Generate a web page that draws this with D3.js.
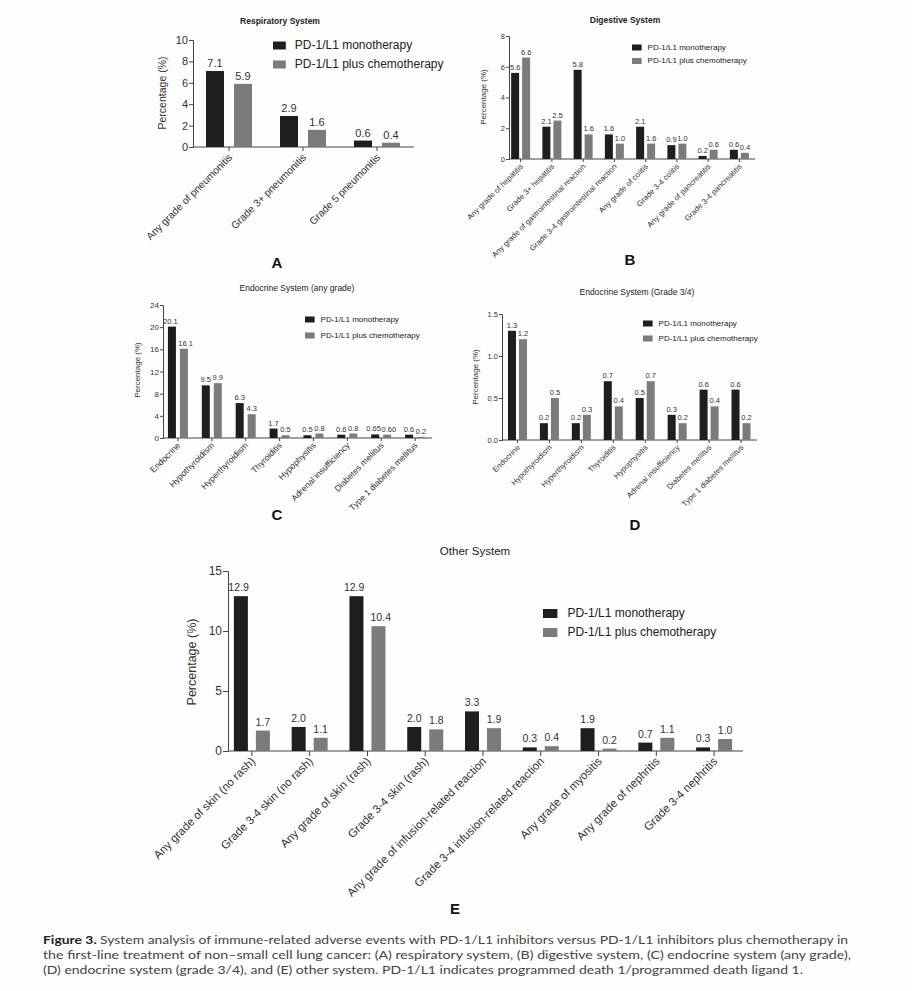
<!DOCTYPE html>
<html>
<head>
<meta charset="utf-8">
<script src="https://cdn.jsdelivr.net/npm/d3@7"></script>
<style>
  body { margin: 0; background: #fff; }
  svg { display: block; font-family: "Liberation Sans", Arial, sans-serif; }
</style>
</head>
<body>
<script>
// --- data ---
const seriesNames = ["PD-1/L1 monotherapy", "PD-1/L1 plus chemotherapy"];

const respCats = ["Any grade of pneumonitis", "Grade 3+ pneumonitis", "Grade 5 pneumonitis"];
const respMono = [7.1, 2.9, 0.6];
const respChemo = [5.9, 1.6, 0.4];
const respTicks = [0, 2, 4, 6, 8, 10];

const digCats = ["Any grade of hepatitis", "Grade 3+ hepatitis", "Any grade of gastrointestinal reaction",
  "Grade 3-4 gastrointestinal reaction", "Any grade of colitis", "Grade 3-4 colitis",
  "Any grade of pancreatitis", "Grade 3-4 pancreatitis"];
const digMono = [5.6, 2.1, 5.8, 1.6, 2.1, 0.9, 0.2, 0.6];
const digChemo = [6.6, 2.5, 1.6, 1.0, 1.0, 1.0, 0.6, 0.4];
const digMonoLabels = ["5.6", "2.1", "5.8", "1.6", "2.1", "0.9", "0.2", "0.6"];
const digChemoLabels = ["6.6", "2.5", "1.6", "1.0", "1.6", "1.0", "0.6", "0.4"];
const digTicks = [0, 2, 4, 6, 8];

const endoCats = ["Endocrine", "Hypothyroidism", "Hyperthyroidism", "Thyroiditis", "Hypophysitis",
  "Adrenal insufficiency", "Diabetes mellitus", "Type 1 diabetes mellitus"];
const endoMono = [20.1, 9.5, 6.3, 1.7, 0.5, 0.6, 0.65, 0.6];
const endoChemo = [16.1, 9.9, 4.3, 0.5, 0.8, 0.8, 0.60, 0.2];
const endoMonoLabels = ["20.1", "9.5", "6.3", "1.7", "0.5", "0.6", "0.65", "0.6"];
const endoChemoLabels = ["16.1", "9.9", "4.3", "0.5", "0.8", "0.8", "0.60", "0.2"];
const endoTicks = [0, 4, 8, 12, 16, 20, 24];

const endo34Mono = [1.3, 0.2, 0.2, 0.7, 0.5, 0.3, 0.6, 0.6];
const endo34Chemo = [1.2, 0.5, 0.3, 0.4, 0.7, 0.2, 0.4, 0.2];
const endo34Ticks = [0, 0.5, 1.0, 1.5];

const otherCats = ["Any grade of skin (no rash)", "Grade 3-4 skin (no rash)", "Any grade of skin (rash)",
  "Grade 3-4 skin (rash)", "Any grade of infusion-related reaction", "Grade 3-4 infusion-related reaction",
  "Any grade of myositis", "Any grade of nephritis", "Grade 3-4 nephritis"];
const otherMono = [12.9, 2.0, 12.9, 2.0, 3.3, 0.3, 1.9, 0.7, 0.3];
const otherChemo = [1.7, 1.1, 10.4, 1.8, 1.9, 0.4, 0.2, 1.1, 1.0];
const otherTicks = [0, 5, 10, 15];

const captionLines = [
  "System analysis of immune-related adverse events with PD-1/L1 inhibitors versus PD-1/L1 inhibitors plus chemotherapy in",
  "the first-line treatment of non\u2013small cell lung cancer: (A) respiratory system, (B) digestive system, (C) endocrine system (any grade),",
  "(D) endocrine system (grade 3/4), and (E) other system. PD-1/L1 indicates programmed death 1/programmed death ligand 1."
];

const colors = ["#1e1e1e", "#7b7b7b"];

const svg = d3.select("body").append("svg").attr("width", 912).attr("height", 991);
svg.append("rect").attr("width", 912).attr("height", 991).attr("fill", "#fdfdfd");

function drawPanel(p) {
  const g = svg.append("g");
  const x = d3.scaleBand().domain(p.cats).range([p.x0, p.x1]);
  const y = d3.scaleLinear().domain([0, p.yMax]).range([p.yBottom, p.yTop]);
  const fmt = p.fmt || (d => d);
  const cx = c => x(c) + x.bandwidth() / 2;

  // y axis
  const ya = g.append("g").attr("transform", `translate(${p.axisX},0)`)
    .call(d3.axisLeft(y).tickValues(p.ticks).tickSize(p.tickLen).tickPadding(1).tickFormat(fmt));
  ya.select(".domain").attr("stroke", "#444");
  ya.selectAll(".tick line").attr("stroke", "#444");
  ya.selectAll(".tick text").attr("fill", "#333").style("font-size", p.tickFont + "px");

  // x axis
  g.append("line").attr("x1", p.axisX).attr("x2", p.x1).attr("y1", p.yBottom).attr("y2", p.yBottom)
    .attr("stroke", "#444");
  g.selectAll(".xt").data(p.cats).enter().append("line")
    .attr("x1", cx).attr("x2", cx)
    .attr("y1", p.yBottom).attr("y2", p.yBottom + p.tickLen).attr("stroke", "#444");

  g.selectAll(".xl").data(p.cats).enter().append("text")
    .attr("transform", d => `translate(${cx(d) + p.labShift},${p.yBottom + p.labOff}) rotate(-45)`)
    .attr("text-anchor", "end").attr("fill", "#333").style("font-size", p.labFont + "px")
    .text(d => d);

  // bars
  [p.mono, p.chemo].forEach((vals, si) => {
    const off = si === 0 ? -p.half : p.half;
    const labels = si === 0 ? p.monoLabels : p.chemoLabels;
    const txt = (d, i) => labels ? labels[i] : d3.format(".1f")(d);
    g.selectAll(".b" + si).data(vals).enter().append("rect")
      .attr("x", (d, i) => cx(p.cats[i]) + off - p.bw / 2)
      .attr("width", p.bw)
      .attr("y", d => y(d)).attr("height", d => p.yBottom - y(d))
      .attr("fill", colors[si]);
    // longer labels (e.g. 0.65) pushed apart a little so the pair stays readable
    g.selectAll(".v" + si).data(vals).enter().append("text")
      .attr("x", (d, i) => cx(p.cats[i]) + off + Math.sign(off) * Math.max(0, txt(d, i).length - 3) * p.valFont * 0.22)
      .attr("y", d => y(d) - p.valGap)
      .attr("text-anchor", "middle").attr("fill", "#333").style("font-size", p.valFont + "px")
      .text(txt);
  });

  // y label
  g.append("text").attr("transform", `translate(${p.ylabX},${p.ylabY}) rotate(-90)`)
    .attr("text-anchor", "middle").attr("fill", "#333").style("font-size", p.ylabFont + "px")
    .text("Percentage (%)");

  // title
  g.append("text").attr("x", p.titleX).attr("y", p.titleY).attr("text-anchor", "middle")
    .attr("fill", "#222").style("font-size", p.titleFont + "px").style("font-weight", p.titleWeight || "normal")
    .text(p.title);

  // legend
  seriesNames.forEach((s, i) => {
    g.append("rect").attr("x", p.legX).attr("y", p.legY + i * p.legStep - p.legSq / 2 + 0.5)
      .attr("width", p.legSq * 1.6).attr("height", p.legSq).attr("fill", colors[i]);
    g.append("text").attr("x", p.legX + p.legSq * 1.6 + p.legPad).attr("y", p.legY + i * p.legStep)
      .attr("dy", "0.35em").attr("fill", "#222").style("font-size", p.legFont + "px").text(s);
  });

  // panel letter
  g.append("text").attr("x", p.letterX).attr("y", p.letterY).attr("text-anchor", "middle")
    .style("font-size", "15px").style("font-weight", "bold").attr("fill", "#111").text(p.letter);
}

drawPanel({
  cats: respCats, mono: respMono, chemo: respChemo, ticks: respTicks, yMax: 10,
  axisX: 193, x0: 192, x1: 414, yTop: 40, yBottom: 147, bw: 18, half: 14,
  tickLen: 4, tickFont: 11, labFont: 10.3, labOff: 11, labShift: 4, valFont: 11, valGap: 4,
  ylabX: 166, ylabY: 93, ylabFont: 10.5,
  title: "Respiratory System", titleX: 280, titleY: 24, titleFont: 8.5, titleWeight: "bold",
  legX: 273, legY: 45, legStep: 19, legSq: 8, legPad: 9, legFont: 12,
  letter: "A", letterX: 277, letterY: 268
});

drawPanel({
  cats: digCats, mono: digMono, chemo: digChemo, monoLabels: digMonoLabels, chemoLabels: digChemoLabels,
  ticks: digTicks, yMax: 8,
  axisX: 509, x0: 505, x1: 755, yTop: 36, yBottom: 159, bw: 8, half: 5.5,
  tickLen: 3, tickFont: 7.5, labFont: 7.8, labOff: 8, labShift: 3, valFont: 7.5, valGap: 3,
  ylabX: 486, ylabY: 97, ylabFont: 8,
  title: "Digestive System", titleX: 625, titleY: 23, titleFont: 8.5, titleWeight: "bold",
  legX: 632, legY: 47, legStep: 13.5, legSq: 6, legPad: 6, legFont: 8,
  letter: "B", letterX: 630, letterY: 265
});

drawPanel({
  cats: endoCats, mono: endoMono, chemo: endoChemo, monoLabels: endoMonoLabels, chemoLabels: endoChemoLabels,
  ticks: endoTicks, yMax: 24,
  axisX: 163, x0: 161, x1: 432, yTop: 305, yBottom: 438, bw: 8, half: 6,
  tickLen: 3, tickFont: 8, labFont: 8.6, labOff: 8, labShift: 3, valFont: 7.5, valGap: 3,
  ylabX: 140, ylabY: 370, ylabFont: 8,
  title: "Endocrine System (any grade)", titleX: 297, titleY: 291, titleFont: 8.5,
  legX: 305, legY: 319, legStep: 16, legSq: 6, legPad: 6, legFont: 8,
  letter: "C", letterX: 277, letterY: 520
});

drawPanel({
  cats: endoCats, mono: endo34Mono, chemo: endo34Chemo, ticks: endo34Ticks, yMax: 1.5, fmt: d3.format(".1f"),
  axisX: 502, x0: 501.5, x1: 757, yTop: 314, yBottom: 440, bw: 8, half: 5.5,
  tickLen: 3, tickFont: 7.5, labFont: 7.8, labOff: 8, labShift: 3, valFont: 7.5, valGap: 3,
  ylabX: 478, ylabY: 377, ylabFont: 8,
  title: "Endocrine System (Grade 3/4)", titleX: 637, titleY: 295, titleFont: 8.5,
  legX: 643, legY: 323, legStep: 15, legSq: 6, legPad: 6, legFont: 8,
  letter: "D", letterX: 635, letterY: 530
});

drawPanel({
  cats: otherCats, mono: otherMono, chemo: otherChemo, ticks: otherTicks, yMax: 15,
  axisX: 228, x0: 223, x1: 743, yTop: 571, yBottom: 751, bw: 14, half: 11,
  tickLen: 5, tickFont: 12, labFont: 11.5, labOff: 11, labShift: 4, valFont: 10.5, valGap: 5,
  ylabX: 196, ylabY: 662, ylabFont: 12.5,
  title: "Other System", titleX: 475, titleY: 555, titleFont: 11.5,
  legX: 543, legY: 613, legStep: 19, legSq: 9, legPad: 10, legFont: 12,
  letter: "E", letterX: 455, letterY: 914
});

// caption
const cap = svg.append("g").attr("fill", "#444")
  .style("font-family", "Lato, 'Open Sans', sans-serif").style("font-size", "12px");
const capEnds = [848, 851, 803];
captionLines.forEach((line, i) => {
  const t = cap.append("text").attr("x", 43).attr("y", 944 + i * 15)
    .attr("textLength", capEnds[i] - 43).attr("lengthAdjust", "spacingAndGlyphs");
  if (i === 0) {
    t.append("tspan").style("font-weight", "bold").attr("fill", "#222").text("Figure 3. ");
  }
  t.append("tspan").text(line);
});
</script>
</body>
</html>
